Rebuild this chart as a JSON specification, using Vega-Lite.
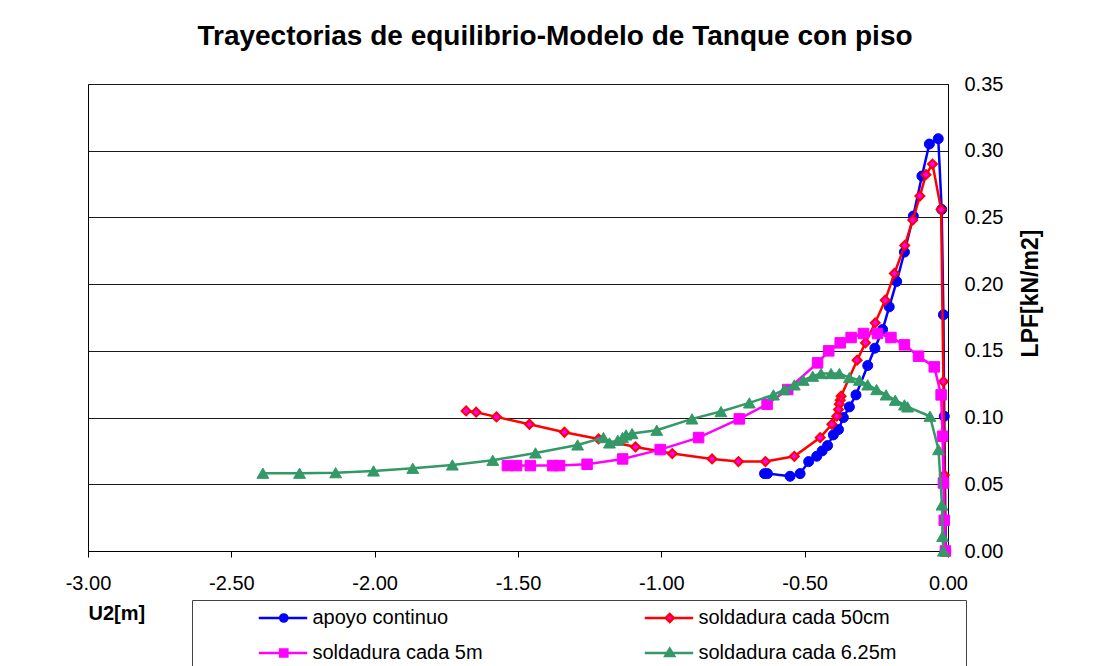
{
  "$schema": "https://vega.github.io/schema/vega-lite/v6.json",
  "width": 860,
  "height": 467,
  "autosize": "none",
  "padding": {"left": 88, "top": 84, "right": 151, "bottom": 115},
  "background": "white",
  "config": {
    "view": {"stroke": "#000", "strokeWidth": 1},
    "font": "Liberation Sans"
  },
  "title": {
    "text": "Trayectorias de equilibrio-Modelo de Tanque con piso",
    "font": "Liberation Sans",
    "fontSize": 28,
    "fontWeight": "bold",
    "color": "#000",
    "anchor": "middle",
    "frame": "group",
    "dx": 37,
    "dy": 26,
    "baseline": "alphabetic",
    "offset": 27
  },
  "data": {
    "values": [
      {"s": "apoyo continuo", "i": 0, "x": -0.008, "y": 0},
      {"s": "apoyo continuo", "i": 1, "x": -0.013, "y": 0.101},
      {"s": "apoyo continuo", "i": 2, "x": -0.016, "y": 0.177},
      {"s": "apoyo continuo", "i": 3, "x": -0.022, "y": 0.256},
      {"s": "apoyo continuo", "i": 4, "x": -0.034, "y": 0.309},
      {"s": "apoyo continuo", "i": 5, "x": -0.065, "y": 0.305},
      {"s": "apoyo continuo", "i": 6, "x": -0.091, "y": 0.281},
      {"s": "apoyo continuo", "i": 7, "x": -0.121, "y": 0.251},
      {"s": "apoyo continuo", "i": 8, "x": -0.152, "y": 0.224},
      {"s": "apoyo continuo", "i": 9, "x": -0.179, "y": 0.202},
      {"s": "apoyo continuo", "i": 10, "x": -0.205, "y": 0.183},
      {"s": "apoyo continuo", "i": 11, "x": -0.228, "y": 0.166},
      {"s": "apoyo continuo", "i": 12, "x": -0.255, "y": 0.152},
      {"s": "apoyo continuo", "i": 13, "x": -0.280, "y": 0.139},
      {"s": "apoyo continuo", "i": 14, "x": -0.321, "y": 0.117},
      {"s": "apoyo continuo", "i": 15, "x": -0.344, "y": 0.108},
      {"s": "apoyo continuo", "i": 16, "x": -0.365, "y": 0.100},
      {"s": "apoyo continuo", "i": 17, "x": -0.382, "y": 0.091},
      {"s": "apoyo continuo", "i": 18, "x": -0.400, "y": 0.087},
      {"s": "apoyo continuo", "i": 19, "x": -0.420, "y": 0.079},
      {"s": "apoyo continuo", "i": 20, "x": -0.439, "y": 0.075},
      {"s": "apoyo continuo", "i": 21, "x": -0.458, "y": 0.071},
      {"s": "apoyo continuo", "i": 22, "x": -0.486, "y": 0.067},
      {"s": "apoyo continuo", "i": 23, "x": -0.516, "y": 0.058},
      {"s": "apoyo continuo", "i": 24, "x": -0.551, "y": 0.056},
      {"s": "apoyo continuo", "i": 25, "x": -0.630, "y": 0.058},
      {"s": "apoyo continuo", "i": 26, "x": -0.640, "y": 0.058},

      {"s": "soldadura cada 50cm", "i": 0, "x": -0.010, "y": 0},
      {"s": "soldadura cada 50cm", "i": 1, "x": -0.013, "y": 0.057},
      {"s": "soldadura cada 50cm", "i": 2, "x": -0.016, "y": 0.127},
      {"s": "soldadura cada 50cm", "i": 3, "x": -0.024, "y": 0.256},
      {"s": "soldadura cada 50cm", "i": 4, "x": -0.054, "y": 0.290},
      {"s": "soldadura cada 50cm", "i": 5, "x": -0.077, "y": 0.282},
      {"s": "soldadura cada 50cm", "i": 6, "x": -0.098, "y": 0.266},
      {"s": "soldadura cada 50cm", "i": 7, "x": -0.123, "y": 0.248},
      {"s": "soldadura cada 50cm", "i": 8, "x": -0.151, "y": 0.229},
      {"s": "soldadura cada 50cm", "i": 9, "x": -0.187, "y": 0.208},
      {"s": "soldadura cada 50cm", "i": 10, "x": -0.219, "y": 0.188},
      {"s": "soldadura cada 50cm", "i": 11, "x": -0.254, "y": 0.171},
      {"s": "soldadura cada 50cm", "i": 12, "x": -0.288, "y": 0.156},
      {"s": "soldadura cada 50cm", "i": 13, "x": -0.317, "y": 0.143},
      {"s": "soldadura cada 50cm", "i": 14, "x": -0.373, "y": 0.116},
      {"s": "soldadura cada 50cm", "i": 15, "x": -0.376, "y": 0.113},
      {"s": "soldadura cada 50cm", "i": 16, "x": -0.379, "y": 0.110},
      {"s": "soldadura cada 50cm", "i": 17, "x": -0.382, "y": 0.106},
      {"s": "soldadura cada 50cm", "i": 18, "x": -0.388, "y": 0.101},
      {"s": "soldadura cada 50cm", "i": 19, "x": -0.405, "y": 0.095},
      {"s": "soldadura cada 50cm", "i": 20, "x": -0.446, "y": 0.085},
      {"s": "soldadura cada 50cm", "i": 21, "x": -0.536, "y": 0.071},
      {"s": "soldadura cada 50cm", "i": 22, "x": -0.637, "y": 0.067},
      {"s": "soldadura cada 50cm", "i": 23, "x": -0.731, "y": 0.067},
      {"s": "soldadura cada 50cm", "i": 24, "x": -0.823, "y": 0.069},
      {"s": "soldadura cada 50cm", "i": 25, "x": -0.962, "y": 0.073},
      {"s": "soldadura cada 50cm", "i": 26, "x": -1.090, "y": 0.078},
      {"s": "soldadura cada 50cm", "i": 27, "x": -1.219, "y": 0.084},
      {"s": "soldadura cada 50cm", "i": 28, "x": -1.338, "y": 0.089},
      {"s": "soldadura cada 50cm", "i": 29, "x": -1.460, "y": 0.095},
      {"s": "soldadura cada 50cm", "i": 30, "x": -1.575, "y": 0.1005},
      {"s": "soldadura cada 50cm", "i": 31, "x": -1.646, "y": 0.104},
      {"s": "soldadura cada 50cm", "i": 32, "x": -1.681, "y": 0.105},

      {"s": "soldadura cada 5m", "i": 0, "x": -0.009, "y": 0},
      {"s": "soldadura cada 5m", "i": 1, "x": -0.013, "y": 0.023},
      {"s": "soldadura cada 5m", "i": 2, "x": -0.016, "y": 0.051},
      {"s": "soldadura cada 5m", "i": 3, "x": -0.019, "y": 0.086},
      {"s": "soldadura cada 5m", "i": 4, "x": -0.024, "y": 0.117},
      {"s": "soldadura cada 5m", "i": 5, "x": -0.048, "y": 0.138},
      {"s": "soldadura cada 5m", "i": 6, "x": -0.103, "y": 0.146},
      {"s": "soldadura cada 5m", "i": 7, "x": -0.152, "y": 0.1545},
      {"s": "soldadura cada 5m", "i": 8, "x": -0.199, "y": 0.160},
      {"s": "soldadura cada 5m", "i": 9, "x": -0.246, "y": 0.163},
      {"s": "soldadura cada 5m", "i": 10, "x": -0.295, "y": 0.163},
      {"s": "soldadura cada 5m", "i": 11, "x": -0.338, "y": 0.160},
      {"s": "soldadura cada 5m", "i": 12, "x": -0.376, "y": 0.156},
      {"s": "soldadura cada 5m", "i": 13, "x": -0.416, "y": 0.150},
      {"s": "soldadura cada 5m", "i": 14, "x": -0.455, "y": 0.141},
      {"s": "soldadura cada 5m", "i": 15, "x": -0.559, "y": 0.121},
      {"s": "soldadura cada 5m", "i": 16, "x": -0.631, "y": 0.110},
      {"s": "soldadura cada 5m", "i": 17, "x": -0.728, "y": 0.099},
      {"s": "soldadura cada 5m", "i": 18, "x": -0.870, "y": 0.085},
      {"s": "soldadura cada 5m", "i": 19, "x": -1.004, "y": 0.076},
      {"s": "soldadura cada 5m", "i": 20, "x": -1.135, "y": 0.069},
      {"s": "soldadura cada 5m", "i": 21, "x": -1.259, "y": 0.065},
      {"s": "soldadura cada 5m", "i": 22, "x": -1.355, "y": 0.064},
      {"s": "soldadura cada 5m", "i": 23, "x": -1.379, "y": 0.064},
      {"s": "soldadura cada 5m", "i": 24, "x": -1.457, "y": 0.064},
      {"s": "soldadura cada 5m", "i": 25, "x": -1.505, "y": 0.064},
      {"s": "soldadura cada 5m", "i": 26, "x": -1.537, "y": 0.064},

      {"s": "soldadura cada 6.25m", "i": 0, "x": -0.016, "y": 0},
      {"s": "soldadura cada 6.25m", "i": 1, "x": -0.019, "y": 0.011},
      {"s": "soldadura cada 6.25m", "i": 2, "x": -0.021, "y": 0.0345},
      {"s": "soldadura cada 6.25m", "i": 3, "x": -0.033, "y": 0.076},
      {"s": "soldadura cada 6.25m", "i": 4, "x": -0.063, "y": 0.101},
      {"s": "soldadura cada 6.25m", "i": 5, "x": -0.141, "y": 0.108},
      {"s": "soldadura cada 6.25m", "i": 6, "x": -0.152, "y": 0.1095},
      {"s": "soldadura cada 6.25m", "i": 7, "x": -0.184, "y": 0.113},
      {"s": "soldadura cada 6.25m", "i": 8, "x": -0.216, "y": 0.117},
      {"s": "soldadura cada 6.25m", "i": 9, "x": -0.249, "y": 0.121},
      {"s": "soldadura cada 6.25m", "i": 10, "x": -0.280, "y": 0.1245},
      {"s": "soldadura cada 6.25m", "i": 11, "x": -0.309, "y": 0.128},
      {"s": "soldadura cada 6.25m", "i": 12, "x": -0.344, "y": 0.130},
      {"s": "soldadura cada 6.25m", "i": 13, "x": -0.379, "y": 0.133},
      {"s": "soldadura cada 6.25m", "i": 14, "x": -0.408, "y": 0.133},
      {"s": "soldadura cada 6.25m", "i": 15, "x": -0.443, "y": 0.133},
      {"s": "soldadura cada 6.25m", "i": 16, "x": -0.472, "y": 0.131},
      {"s": "soldadura cada 6.25m", "i": 17, "x": -0.505, "y": 0.128},
      {"s": "soldadura cada 6.25m", "i": 18, "x": -0.536, "y": 0.1245},
      {"s": "soldadura cada 6.25m", "i": 19, "x": -0.571, "y": 0.121},
      {"s": "soldadura cada 6.25m", "i": 20, "x": -0.609, "y": 0.117},
      {"s": "soldadura cada 6.25m", "i": 21, "x": -0.693, "y": 0.111},
      {"s": "soldadura cada 6.25m", "i": 22, "x": -0.792, "y": 0.1045},
      {"s": "soldadura cada 6.25m", "i": 23, "x": -0.893, "y": 0.099},
      {"s": "soldadura cada 6.25m", "i": 24, "x": -1.016, "y": 0.0905},
      {"s": "soldadura cada 6.25m", "i": 25, "x": -1.102, "y": 0.088},
      {"s": "soldadura cada 6.25m", "i": 26, "x": -1.123, "y": 0.087},
      {"s": "soldadura cada 6.25m", "i": 27, "x": -1.135, "y": 0.085},
      {"s": "soldadura cada 6.25m", "i": 28, "x": -1.152, "y": 0.083},
      {"s": "soldadura cada 6.25m", "i": 29, "x": -1.181, "y": 0.081},
      {"s": "soldadura cada 6.25m", "i": 30, "x": -1.202, "y": 0.085},
      {"s": "soldadura cada 6.25m", "i": 31, "x": -1.292, "y": 0.0795},
      {"s": "soldadura cada 6.25m", "i": 32, "x": -1.439, "y": 0.0735},
      {"s": "soldadura cada 6.25m", "i": 33, "x": -1.588, "y": 0.068},
      {"s": "soldadura cada 6.25m", "i": 34, "x": -1.729, "y": 0.0645},
      {"s": "soldadura cada 6.25m", "i": 35, "x": -1.867, "y": 0.062},
      {"s": "soldadura cada 6.25m", "i": 36, "x": -2.004, "y": 0.060},
      {"s": "soldadura cada 6.25m", "i": 37, "x": -2.136, "y": 0.0587},
      {"s": "soldadura cada 6.25m", "i": 38, "x": -2.262, "y": 0.0583},
      {"s": "soldadura cada 6.25m", "i": 39, "x": -2.390, "y": 0.0583}
    ]
  },
  "encoding": {
    "x": {
      "field": "x",
      "type": "quantitative",
      "scale": {"domain": [-3, 0], "nice": false, "zero": false},
      "axis": {
        "orient": "bottom",
        "values": [-3, -2.5, -2, -1.5, -1, -0.5, 0],
        "labelExpr": "replace(format(datum.value, '.2f'), '\u2212', '-')",
        "grid": false,
        "domainColor": "#000",
        "tickColor": "#000",
        "tickSize": 6,
        "labelFont": "Liberation Sans",
        "labelFontSize": 20,
        "labelColor": "#000",
        "labelPadding": 16,
        "labelFlush": false,
        "labelOverlap": false,
        "title": "U2[m]",
        "titleFont": "Liberation Sans",
        "titleFontSize": 20,
        "titleFontWeight": "bold",
        "titleColor": "#000",
        "titleX": 0,
        "titleY": 62,
        "titleAlign": "left",
        "titleBaseline": "middle"
      }
    },
    "y": {
      "field": "y",
      "type": "quantitative",
      "scale": {"domain": [0, 0.35], "nice": false, "zero": false},
      "axis": {
        "orient": "right",
        "values": [0, 0.05, 0.1, 0.15, 0.2, 0.25, 0.3, 0.35],
        "format": ".2f",
        "grid": true,
        "gridColor": "#1a1a1a",
        "gridWidth": 1,
        "ticks": false,
        "domainColor": "#000",
        "labelFont": "Liberation Sans",
        "labelFontSize": 20,
        "labelColor": "#000",
        "labelPadding": 16,
        "labelFlush": false,
        "labelOverlap": false,
        "title": "LPF[kN/m2]",
        "titleFont": "Liberation Sans",
        "titleFontSize": 23,
        "titleFontWeight": "bold",
        "titleColor": "#000",
        "titleAngle": 270,
        "titleX": 82,
        "titleY": 209,
        "titleAlign": "center",
        "titleBaseline": "middle"
      }
    },
    "order": {"field": "i", "type": "quantitative"},
    "stroke": {
      "field": "s",
      "type": "nominal",
      "scale": {
        "domain": ["apoyo continuo", "soldadura cada 50cm", "soldadura cada 5m", "soldadura cada 6.25m"],
        "range": ["#0000FF", "#FF0000", "#FF00FF", "#339966"]
      },
      "legend": {
        "orient": "none",
        "legendX": 104,
        "legendY": 516,
        "direction": "horizontal",
        "columns": 2,
        "title": null,
        "labelFont": "Liberation Sans",
        "labelFontSize": 20,
        "labelColor": "#000",
        "labelLimit": 0,
        "symbolSize": 64,
        "symbolStrokeWidth": 2.5,
        "labelOffset": 92.5,
        "columnPadding": 13,
        "rowPadding": 15,
        "padding": 8,
        "strokeColor": "#444",
        "fillColor": "#fff",
        "encode": {
          "symbols": {
            "update": {
              "shape": {"signal": "datum.value === 'apoyo continuo' ? 'M-1.3,0M89.25,0M12.19,0L17.54,0M19.34,0L24.3,0M17.54,0C17.54,-0.497 17.94,-0.9 18.44,-0.9C18.94,-0.9 19.34,-0.497 19.34,0C19.34,0.497 18.94,0.9 18.44,0.9C17.94,0.9 17.54,0.497 17.54,0Z' : datum.value === 'soldadura cada 50cm' ? 'M-1.3,0M89.25,0M12.19,0L17.44,0M19.44,0L24.3,0M17.44,0L18.44,-1L19.44,0L18.44,1Z' : datum.value === 'soldadura cada 5m' ? 'M-1.3,0M89.25,0M12.19,0L17.54,0M19.34,0L24.3,0M17.54,-0.9L19.34,-0.9L19.34,0.9L17.54,0.9Z' : 'M-1.3,0M89.25,0M12.19,0L17.8,0M19.1,0L24.3,0M17.34,0.75L18.44,-1.1L19.54,0.75Z'"},
              "fill": {"signal": "datum.value === 'apoyo continuo' ? '#0000FF' : datum.value === 'soldadura cada 6.25m' ? '#339966' : '#FF00FF'"},
              "fillOpacity": {"value": 1},
              "strokeWidth": {"value": 2.5}
            }
          }
        }
      }
    }
  },
  "layer": [
    {"transform": [{"filter": "datum.s === 'apoyo continuo'"}], "mark": {"type": "line", "strokeWidth": 2.5}},
    {"transform": [{"filter": "datum.s === 'apoyo continuo'"}], "mark": {"type": "point", "filled": true, "shape": "circle", "size": 100, "strokeWidth": 1, "opacity": 1, "fill": "#0000FF"}},
    {"transform": [{"filter": "datum.s === 'soldadura cada 50cm'"}], "mark": {"type": "line", "strokeWidth": 2.5}},
    {"transform": [{"filter": "datum.s === 'soldadura cada 50cm'"}], "mark": {"type": "point", "filled": true, "shape": "diamond", "size": 80, "strokeWidth": 2, "opacity": 1, "fill": "#FF00FF"}},
    {"transform": [{"filter": "datum.s === 'soldadura cada 5m'"}], "mark": {"type": "line", "strokeWidth": 2.5}},
    {"transform": [{"filter": "datum.s === 'soldadura cada 5m'"}], "mark": {"type": "point", "filled": true, "shape": "square", "size": 110, "strokeWidth": 1, "opacity": 1, "fill": "#FF00FF"}},
    {"transform": [{"filter": "datum.s === 'soldadura cada 6.25m'"}], "mark": {"type": "line", "strokeWidth": 2.5}},
    {"transform": [{"filter": "datum.s === 'soldadura cada 6.25m'"}], "mark": {"type": "point", "filled": true, "shape": "triangle-up", "size": 140, "strokeWidth": 1, "opacity": 1, "fill": "#339966"}}
  ]
}
